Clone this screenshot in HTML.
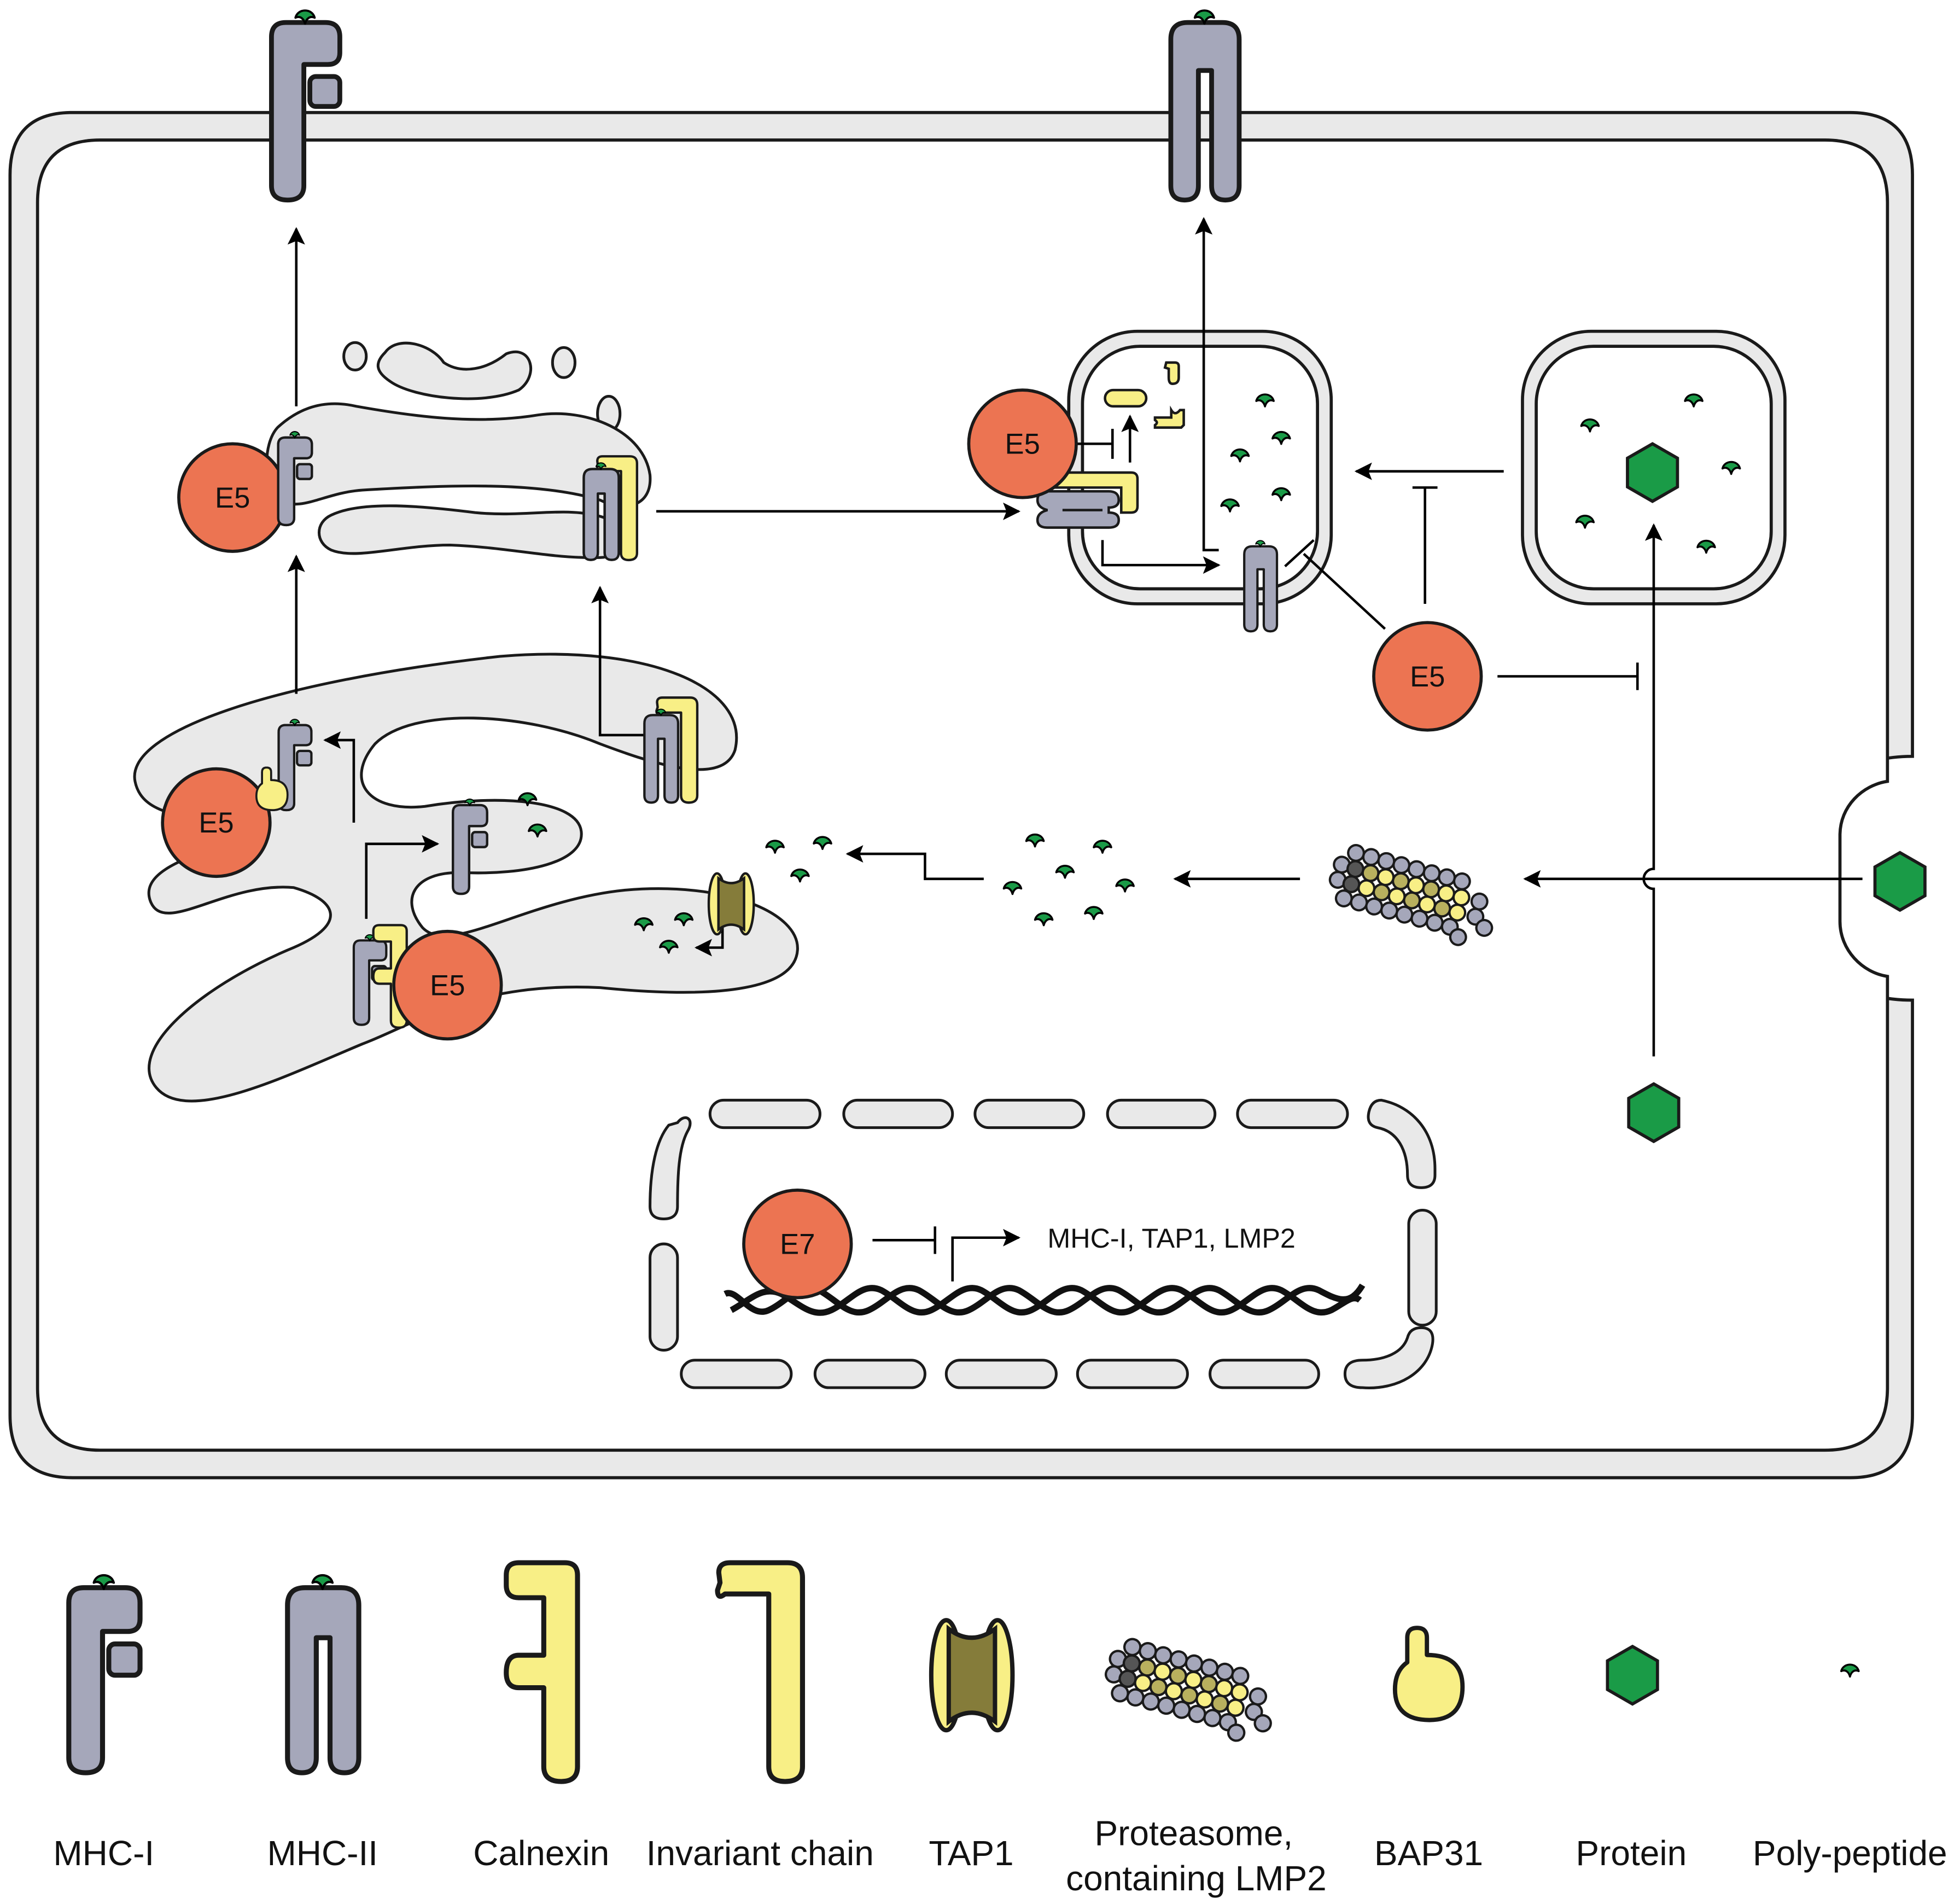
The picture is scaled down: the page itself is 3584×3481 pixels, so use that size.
<!DOCTYPE html>
<html><head><meta charset="utf-8"><style>html,body{margin:0;padding:0;background:#fff}svg{display:block}</style></head>
<body>
<svg width="3584" height="3481" viewBox="0 0 1568 1523" xmlns="http://www.w3.org/2000/svg" font-family="Liberation Sans, Arial, sans-serif">
<defs>
<marker id="ahb" viewBox="0 0 10 10" refX="9" refY="5" markerWidth="18" markerHeight="14" orient="auto" markerUnits="userSpaceOnUse"><path d="M0,0 L10,5 L0,10 L2,5 Z" fill="#000"/></marker>
<symbol id="pep" viewBox="-10 -8 20 16" overflow="visible"><path d="M-8,2 C-6,-6 6,-6 8,2 C4,0 1,3 0,7 C-1,3 -4,0 -8,2 Z" fill="#1a9b47" stroke="#000" stroke-width="1.8" stroke-linejoin="round"/></symbol>
<symbol id="mhc1" viewBox="0 0 57 148" overflow="visible"><path d="M0,12 Q0,0 12,0 L45,0 Q57,0 57,12 L57,25 Q57,35 47,35 L27,35 L27,136 Q27,148 13.5,148 Q0,148 0,136 Z" fill="#a5a7ba" stroke="#1a1a1a" stroke-width="4" stroke-linejoin="round"/><rect x="32" y="45" width="25" height="25" rx="5" fill="#a5a7ba" stroke="#1a1a1a" stroke-width="4"/><use href="#pep" x="17" y="-14" width="22" height="16"/></symbol>
<symbol id="mhc2" viewBox="0 0 57 148" overflow="visible"><path d="M0,14 Q0,0 14,0 L43,0 Q57,0 57,14 L57,136 Q57,148 45.5,148 Q34,148 34,136 L34,40 L23,40 L23,136 Q23,148 11.5,148 Q0,148 0,136 Z" fill="#a5a7ba" stroke="#1a1a1a" stroke-width="4" stroke-linejoin="round"/><use href="#pep" x="17" y="-14" width="22" height="16"/></symbol>
<symbol id="calx" viewBox="0 0 57 175" overflow="visible"><path d="M0,10 Q0,0 10,0 L47,0 Q57,0 57,10 L57,163 Q57,175 44,175 Q30,175 30,163 L30,100 L10,100 Q0,100 0,88 Q0,74 10,74 L30,74 L30,28 L10,28 Q0,28 0,18 Z" fill="#f8ef86" stroke="#1a1a1a" stroke-width="4" stroke-linejoin="round"/></symbol>
<symbol id="inv" viewBox="0 0 70 175" overflow="visible"><path d="M3,8 Q3,0 12,0 L58,0 Q70,0 70,12 L70,163 Q70,175 56,175 Q43,175 43,163 L43,25 L8,25 Q2,30 2,22 L4,16 Z" fill="#f8ef86" stroke="#1a1a1a" stroke-width="4" stroke-linejoin="round"/></symbol>
<symbol id="tap" viewBox="0 0 65 90" overflow="visible"><ellipse cx="12" cy="45" rx="12" ry="44" fill="#f8ef86" stroke="#1a1a1a" stroke-width="3.5"/><ellipse cx="53" cy="45" rx="12" ry="44" fill="#f8ef86" stroke="#1a1a1a" stroke-width="3.5"/><path d="M14,8 Q32,22 51,8 L51,82 Q32,68 14,82 Z" fill="#857c3a" stroke="#1a1a1a" stroke-width="3.5"/></symbol>
<symbol id="bap" viewBox="0 0 57 75" overflow="visible"><path d="M10,8 Q10,0 18,0 Q26,0 26,8 L26,22 Q55,22 55,48 Q55,75 28,75 Q0,75 0,50 Q0,35 10,28 Z" fill="#f8ef86" stroke="#1a1a1a" stroke-width="3.5" stroke-linejoin="round"/></symbol>
<symbol id="hex" viewBox="-25 -25 50 50" overflow="visible"><polygon points="0,-23 20,-11.5 20,11.5 0,23 -20,11.5 -20,-11.5" fill="#1a9b47" stroke="#1a1a1a" stroke-width="2.5"/></symbol>
<symbol id="prot" viewBox="-8 -2 112 50" overflow="visible"><g stroke="#1a1a1a" stroke-width="1.6">
<g fill="#a5a7ba"><circle cx="-2" cy="16" r="5.5"/><circle cx="-2" cy="27" r="5.5"/><circle cx="98" cy="16" r="5.5"/><circle cx="98" cy="27" r="5.5"/><circle cx="106" cy="33" r="5.5"/>
<circle cx="5.5" cy="5.5" r="5.5"/><circle cx="16.5" cy="5.5" r="5.5"/><circle cx="27.5" cy="5.5" r="5.5"/><circle cx="38.5" cy="5.5" r="5.5"/><circle cx="49.5" cy="5.5" r="5.5"/><circle cx="60.5" cy="5.5" r="5.5"/><circle cx="71.5" cy="5.5" r="5.5"/><circle cx="82.5" cy="5.5" r="5.5"/>
<circle cx="5.5" cy="38.5" r="5.5"/><circle cx="16.5" cy="38.5" r="5.5"/><circle cx="27.5" cy="38.5" r="5.5"/><circle cx="38.5" cy="38.5" r="5.5"/><circle cx="49.5" cy="38.5" r="5.5"/><circle cx="60.5" cy="38.5" r="5.5"/><circle cx="71.5" cy="38.5" r="5.5"/><circle cx="82.5" cy="38.5" r="5.5"/><circle cx="90" cy="44" r="5.5"/></g>
<g fill="#555"><circle cx="8" cy="16.5" r="5.5"/><circle cx="8" cy="27.5" r="5.5"/></g>
<g fill="#b8b05e"><circle cx="19" cy="16.5" r="5.5"/><circle cx="41" cy="16.5" r="5.5"/><circle cx="63" cy="16.5" r="5.5"/><circle cx="30" cy="27.5" r="5.5"/><circle cx="52" cy="27.5" r="5.5"/><circle cx="74" cy="27.5" r="5.5"/></g>
<g fill="#f8ef86"><circle cx="30" cy="16.5" r="5.5"/><circle cx="52" cy="16.5" r="5.5"/><circle cx="74" cy="16.5" r="5.5"/><circle cx="85" cy="16.5" r="5.5"/><circle cx="19" cy="27.5" r="5.5"/><circle cx="41" cy="27.5" r="5.5"/><circle cx="63" cy="27.5" r="5.5"/><circle cx="85" cy="27.5" r="5.5"/></g></g></symbol>
</defs>

<!-- cell -->
<path d="M58,90 H1480 Q1530,90 1530,140 V605 C1482,605 1452,628 1452,665 V740 C1452,778 1482,800 1530,800 V1132 Q1530,1182 1480,1182 H58 Q8,1182 8,1132 V140 Q8,90 58,90 Z" fill="#e9e9e9" stroke="#1a1a1a" stroke-width="2.5"/>
<path d="M80,112 H1460 Q1510,112 1510,162 V625 C1490,628 1472,645 1472,668 V737 C1472,760 1490,778 1510,781 V1110 Q1510,1160 1460,1160 H80 Q30,1160 30,1110 V162 Q30,112 80,112 Z" fill="#fff" stroke="#1a1a1a" stroke-width="2.5"/>

<use href="#mhc1" x="217" y="18" width="55" height="142"/>
<use href="#mhc2" x="936" y="18" width="56" height="142"/>

<!-- golgi -->
<g fill="#e9e9e9" stroke="#1a1a1a" stroke-width="2.2">
<ellipse cx="284" cy="285" rx="9" ry="11"/><ellipse cx="451" cy="290" rx="9" ry="12"/><ellipse cx="487" cy="331" rx="9" ry="14"/>
<path d="M308,282 C318,268 345,275 355,290 C370,300 390,295 405,283 C425,275 432,300 415,312 C385,325 330,318 312,305 C300,297 300,290 308,282 Z"/>
<path d="M222,342 C235,330 255,318 285,325 C330,333 380,340 430,332 C470,326 515,345 520,380 C522,405 500,410 480,400 C430,385 360,388 290,392 C260,394 240,410 225,400 C210,390 210,355 222,342 Z"/>
<path d="M265,412 C290,400 340,405 380,410 C420,414 450,405 480,413 C505,420 505,445 480,446 C440,447 410,438 360,436 C320,436 285,448 265,440 C252,434 252,418 265,412 Z"/>
</g>

<!-- ER -->
<path d="M108,625 C100,585 220,545 400,525 C520,515 600,550 588,600 C578,630 520,610 480,595 C420,570 330,565 300,595 C275,625 295,650 340,645 C400,635 462,640 465,665 C468,690 420,700 370,698 C330,697 320,720 338,742 C360,765 420,720 500,712 C580,705 640,730 638,760 C636,790 580,800 480,790 C380,785 330,820 290,835 C230,860 150,900 125,870 C100,840 160,790 230,760 C280,740 270,720 235,710 C180,705 130,750 120,720 C110,690 180,680 200,665 C170,650 115,660 108,625 Z" fill="#e9e9e9" stroke="#1a1a1a" stroke-width="2.2"/>

<!-- endosomes -->
<rect x="855" y="265" width="210" height="218" rx="55" fill="#e9e9e9" stroke="#1a1a1a" stroke-width="2.5"/>
<rect x="866" y="277" width="188" height="194" rx="46" fill="#fff" stroke="#1a1a1a" stroke-width="2.5"/>
<rect x="1218" y="265" width="210" height="218" rx="55" fill="#e9e9e9" stroke="#1a1a1a" stroke-width="2.5"/>
<rect x="1229" y="277" width="188" height="194" rx="46" fill="#fff" stroke="#1a1a1a" stroke-width="2.5"/>

<g stroke="#000" stroke-width="2" fill="none">
<line x1="237" y1="325" x2="237" y2="183" marker-end="url(#ahb)"/>
<polyline points="975,440 963,440 963,175" marker-end="url(#ahb)"/>
<line x1="237" y1="555" x2="237" y2="445" marker-end="url(#ahb)"/>
<polyline points="517,588 480,588 480,470" marker-end="url(#ahb)"/>
<line x1="525" y1="409" x2="815" y2="409" marker-end="url(#ahb)"/>
<line x1="862" y1="355" x2="890" y2="355"/><line x1="890" y1="343" x2="890" y2="367"/>
<line x1="904" y1="370" x2="904" y2="333" marker-end="url(#ahb)"/>
<polyline points="882,432 882,452 975,452" marker-end="url(#ahb)"/>
<line x1="1203" y1="377" x2="1085" y2="377" marker-end="url(#ahb)"/>
<line x1="1140" y1="483" x2="1140" y2="390"/><line x1="1130" y1="390" x2="1150" y2="390"/>
<line x1="1108" y1="503" x2="1043" y2="443"/><line x1="1028" y1="453" x2="1051" y2="432"/>
<line x1="1198" y1="541" x2="1310" y2="541"/><line x1="1310" y1="530" x2="1310" y2="552"/>
<path d="M1323,845 V711 A8,8 0 0 1 1323,695 V420" marker-end="url(#ahb)"/>
<line x1="1490" y1="703" x2="1220" y2="703" marker-end="url(#ahb)"/>
<line x1="1040" y1="703" x2="940" y2="703" marker-end="url(#ahb)"/>
<polyline points="787,703 740,703 740,683 678,683" marker-end="url(#ahb)"/>
<polyline points="283,658 283,592 260,592" marker-end="url(#ahb)"/>
<polyline points="293,735 293,675 350,675" marker-end="url(#ahb)"/>
<polyline points="578,738 578,758 557,758" marker-end="url(#ahb)"/>
<line x1="698" y1="992" x2="748" y2="992"/><line x1="748" y1="981" x2="748" y2="1003"/>
<polyline points="762,1025 762,990 815,990" marker-end="url(#ahb)"/>
</g>

<use href="#mhc1" x="222" y="350" width="28" height="70"/>
<use href="#inv" x="476" y="365" width="34" height="83"/>
<use href="#mhc2" x="467" y="375" width="28" height="73"/>

<path d="M838,378 H905 Q910,378 910,383 V405 Q910,410 905,410 H897 V390 H838 Q830,390 830,384 Q830,378 838,378 Z" fill="#f8ef86" stroke="#1a1a1a" stroke-width="2"/>
<path d="M838,393 H887 Q895,393 895,400 Q895,406 887,406 L887,410 Q895,410 895,416 Q895,422 887,422 H838 Q830,422 830,416 Q830,410 838,408 Q830,406 830,400 Q830,393 838,393 Z" fill="#a5a7ba" stroke="#1a1a1a" stroke-width="2"/>
<line x1="850" y1="408" x2="882" y2="408" stroke="#1a1a1a" stroke-width="2"/>
<rect x="884" y="312" width="33" height="13" rx="6.5" fill="#f8ef86" stroke="#1a1a1a" stroke-width="2"/>
<path d="M933,290 H940 Q943,290 943,293 V302 Q943,307 938,307 Q935,307 935,302 V295 L932,294 Z" fill="#f8ef86" stroke="#1a1a1a" stroke-width="2"/>
<path d="M924,334 H937 V328 Q940,333 944,328 H947 V340 L945,342 H924 V340 Q927,338 924,336 Z" fill="#f8ef86" stroke="#1a1a1a" stroke-width="2"/>
<use href="#mhc2" x="995" y="437" width="27" height="68"/>

<use href="#mhc1" x="222" y="580" width="28" height="68"/>
<use href="#bap" x="205" y="614" width="26" height="34"/>
<use href="#mhc1" x="362" y="644" width="28" height="71"/>
<use href="#inv" x="524" y="558" width="34" height="84"/>
<use href="#mhc2" x="515" y="572" width="28" height="70"/>
<use href="#mhc1" x="283" y="750" width="26" height="72"/>
<use href="#calx" x="298" y="740" width="28" height="82"/>
<use href="#tap" x="567" y="697" width="36" height="52"/>

<g>
<use href="#pep" x="413" y="631" width="18" height="14"/><use href="#pep" x="421" y="656" width="18" height="14"/>
<use href="#pep" x="506" y="731" width="18" height="14"/><use href="#pep" x="538" y="727" width="18" height="14"/><use href="#pep" x="526" y="749" width="18" height="14"/>
<use href="#pep" x="611" y="669" width="18" height="14"/><use href="#pep" x="649" y="666" width="18" height="14"/><use href="#pep" x="631" y="692" width="18" height="14"/>
<use href="#pep" x="819" y="664" width="18" height="14"/><use href="#pep" x="873" y="669" width="18" height="14"/><use href="#pep" x="843" y="689" width="18" height="14"/><use href="#pep" x="801" y="702" width="18" height="14"/><use href="#pep" x="891" y="700" width="18" height="14"/><use href="#pep" x="826" y="727" width="18" height="14"/><use href="#pep" x="866" y="722" width="18" height="14"/>
<use href="#pep" x="1003" y="312" width="18" height="14"/><use href="#pep" x="1016" y="342" width="18" height="14"/><use href="#pep" x="983" y="356" width="18" height="14"/><use href="#pep" x="1016" y="387" width="18" height="14"/><use href="#pep" x="975" y="396" width="18" height="14"/>
<use href="#pep" x="1263" y="332" width="18" height="14"/><use href="#pep" x="1346" y="312" width="18" height="14"/><use href="#pep" x="1376" y="366" width="18" height="14"/><use href="#pep" x="1259" y="409" width="18" height="14"/><use href="#pep" x="1356" y="429" width="18" height="14"/>
</g>
<use href="#hex" x="1297" y="353" width="50" height="50"/>
<use href="#hex" x="1495" y="680" width="50" height="50"/>
<use href="#hex" x="1298" y="865" width="50" height="50"/>
<g transform="translate(1072,670) rotate(15)"><use href="#prot" x="0" y="0" width="128" height="57"/></g>

<!-- nucleus -->
<g fill="#e9e9e9" stroke="#1a1a1a" stroke-width="2.2">
<rect x="568" y="880" width="88" height="22" rx="11"/><rect x="675" y="880" width="87" height="22" rx="11"/><rect x="780" y="880" width="87" height="22" rx="11"/><rect x="886" y="880" width="86" height="22" rx="11"/><rect x="990" y="880" width="88" height="22" rx="11"/>
<rect x="545" y="1088" width="88" height="22" rx="11"/><rect x="652" y="1088" width="88" height="22" rx="11"/><rect x="757" y="1088" width="88" height="22" rx="11"/><rect x="862" y="1088" width="88" height="22" rx="11"/><rect x="968" y="1088" width="87" height="22" rx="11"/>
<path d="M542,898 C548,890 556,895 550,905 C543,918 542,940 542,965 Q542,975 531,975 Q520,975 520,965 C520,935 525,912 535,900 Z"/>
<rect x="520" y="995" width="22" height="85" rx="11"/>
<path d="M1105,880 C1130,885 1148,905 1148,935 V940 Q1148,950 1137,950 Q1126,950 1126,940 C1126,920 1118,905 1102,902 Q1093,900 1095,890 Q1097,880 1105,880 Z"/>
<rect x="1127" y="968" width="22" height="92" rx="11"/>
<path d="M1126,1070 Q1128,1062 1137,1062 Q1148,1062 1146,1075 C1142,1098 1118,1112 1090,1110 Q1076,1110 1076,1099 Q1076,1088 1090,1088 C1108,1088 1122,1082 1126,1070 Z"/>
</g>
<g fill="none" stroke="#111" stroke-width="5">
<path d="M580,1035 C590,1030 600,1055 615,1048 C630,1041 640,1025 655,1032 C670,1040 680,1055 695,1048 C710,1041 720,1025 735,1032 C750,1040 760,1055 775,1048 C790,1041 800,1025 815,1032 C830,1040 840,1055 855,1048 C870,1041 880,1025 895,1032 C910,1040 920,1055 935,1048 C950,1041 960,1025 975,1032 C990,1040 1000,1055 1015,1048 C1030,1041 1040,1025 1055,1032 C1070,1040 1080,1045 1090,1028"/>
<path d="M585,1048 C600,1040 610,1028 625,1035 C640,1043 650,1055 665,1048 C680,1041 690,1025 705,1032 C720,1040 730,1055 745,1048 C760,1041 770,1025 785,1032 C800,1040 810,1055 825,1048 C840,1041 850,1025 865,1032 C880,1040 890,1055 905,1048 C920,1041 930,1025 945,1032 C960,1040 970,1055 985,1048 C1000,1041 1010,1025 1025,1032 C1040,1040 1050,1055 1065,1048 C1075,1043 1082,1035 1088,1040"/>
</g>
<text x="838" y="998" font-size="22" fill="#111">MHC-I, TAP1, LMP2</text>

<g fill="#ec7452" stroke="#1a1a1a" stroke-width="2.5">
<circle cx="186" cy="398" r="43"/><circle cx="818" cy="355" r="43"/><circle cx="1142" cy="541" r="43"/><circle cx="173" cy="658" r="43"/><circle cx="358" cy="788" r="43"/><circle cx="638" cy="995" r="43"/>
</g>
<use href="#mhc1" x="222" y="350" width="28" height="70"/>
<use href="#mhc1" x="222" y="580" width="28" height="68"/>
<use href="#bap" x="205" y="614" width="26" height="34"/>
<g font-size="23" fill="#111" text-anchor="middle">
<text x="186" y="406">E5</text><text x="818" y="363">E5</text><text x="1142" y="549">E5</text><text x="173" y="666">E5</text><text x="358" y="796">E5</text><text x="638" y="1003">E7</text>
</g>

<use href="#mhc1" x="55" y="1270" width="57" height="148"/>
<use href="#mhc2" x="230" y="1270" width="57" height="148"/>
<use href="#calx" x="405" y="1250" width="57" height="175"/>
<use href="#inv" x="572" y="1250" width="70" height="175"/>
<use href="#tap" x="745" y="1295" width="65" height="90"/>
<g transform="translate(893,1305) rotate(15)"><use href="#prot" x="0" y="0" width="130" height="58"/></g>
<use href="#bap" x="1116" y="1302" width="56" height="74"/>
<use href="#hex" x="1281" y="1315" width="50" height="50"/>
<use href="#pep" x="1471" y="1328" width="18" height="14"/>
<g font-size="28" fill="#111" text-anchor="middle">
<text x="83" y="1492">MHC-I</text><text x="258" y="1492">MHC-II</text><text x="433" y="1492">Calnexin</text><text x="608" y="1492">Invariant chain</text><text x="777" y="1492">TAP1</text>
<text x="955" y="1476">Proteasome,</text><text x="957" y="1512">containing LMP2</text>
<text x="1143" y="1492">BAP31</text><text x="1305" y="1492">Protein</text><text x="1480" y="1492">Poly-peptide</text>
</g>
</svg>
</body></html>
